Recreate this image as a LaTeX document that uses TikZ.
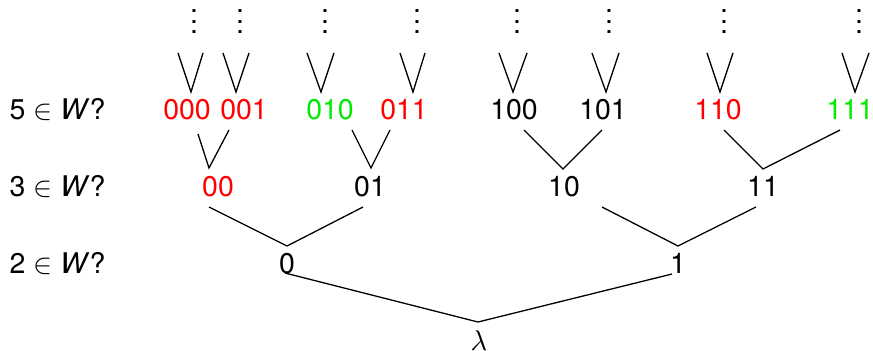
\documentclass[tikz,border=0pt,11pt]{standalone}
\usepackage{fontspec}
\setmainfont{TeX Gyre Heros}
\definecolor{accept}{RGB}{0,235,0}
\definecolor{reject}{RGB}{255,0,0}
% three stacked dots, 4pt apart
\newcommand{\stackdots}{\vbox{\baselineskip=4pt\lineskiplimit=0pt\hbox{.}\hbox{.}\hbox{.}}}
\tikzset{
  lbl/.style={anchor=base, inner sep=0pt},
  yes/.style={lbl, text=accept},
  no/.style={lbl, text=reject},
  question/.style={anchor=base west, inner sep=0pt},
  branch/.style={line width=0.5pt, line join=miter},
}
\begin{document}
\begin{tikzpicture}[x=0.3846pt, y=-0.3846pt]
\useasboundingbox (0,0) rectangle (873,350);

% level questions
\node[question] (q5) at (9,119.5) {5 $\in$ \textit{W}?};
\node[question] (q3) at (9,196) {3 $\in$ \textit{W}?};
\node[question] (q2) at (9,273) {2 $\in$ \textit{W}?};

% words
\node[no]  (n000) at (187,119.5) {000};
\node[no]  (n001) at (244,119.5) {001};
\node[yes] (n010) at (330,119.5) {010};
\node[no]  (n011) at (404,119.5) {011};
\node[lbl] (n100) at (514,119.5) {100};
\node[lbl] (n101) at (603,119.5) {101};
\node[no]  (n110) at (718,119.5) {110};
\node[yes] (n111) at (850,119.5) {111};
\node[no]  (n00) at (218,196) {00};
\node[lbl] (n01) at (370,196) {01};
\node[lbl] (n10) at (564,196) {10};
\node[lbl] (n11) at (763,196) {11};
\node[lbl] (n0) at (287,273) {0};
\node[lbl] (n1) at (678,273) {1};
\node[lbl] (root) at (479,350) {$\lambda$};

% branches from the root
\coordinate (vr) at (478,322);
\coordinate (e0) at (285,273);
\coordinate (e1) at (672,274);
\draw[branch] (e0) -- (vr) -- (e1);

% branches from 0 and 1
\coordinate (v0) at (287,246);
\coordinate (e00) at (209,207);
\coordinate (e01) at (363,207);
\draw[branch] (e00) -- (v0) -- (e01);
\coordinate (v1) at (678,246);
\coordinate (e10) at (602,207);
\coordinate (e11) at (756,207);
\draw[branch] (e10) -- (v1) -- (e11);

% branches from the two-letter words
\foreach \nm/\vx/\vy/\lx/\ly/\rx/\ry in {00/209/168/198/134/229/130,
    01/371/168/352/130/390/130, 10/563/169/524/130/602/130,
    11/763/169/724/130/840/130}{
  \coordinate (v\nm) at (\vx,\vy);
  \coordinate (l\nm) at (\lx,\ly);
  \coordinate (r\nm) at (\rx,\ry);
  \draw[branch] (l\nm) -- (v\nm) -- (r\nm);
}

% branches from the three-letter words, continued by dots
\foreach \nm/\vx/\lx/\rx/\dx in {000/191/178/203/194, 001/236/223/249/240,
    010/321/307/334/325, 011/413/400/425/417, 100/513/499/527/517,
    101/606/592/619/609, 110/720/707/733/724, 111/855/842/869/859}{
  \coordinate (v\nm) at (\vx,92);
  \coordinate (l\nm) at (\lx,53);
  \coordinate (r\nm) at (\rx,53);
  \draw[branch] (l\nm) -- (v\nm) -- (r\nm);
  \node[lbl] (d\nm) at (\dx,33.5) {\stackdots};
}
\end{tikzpicture}
\end{document}
